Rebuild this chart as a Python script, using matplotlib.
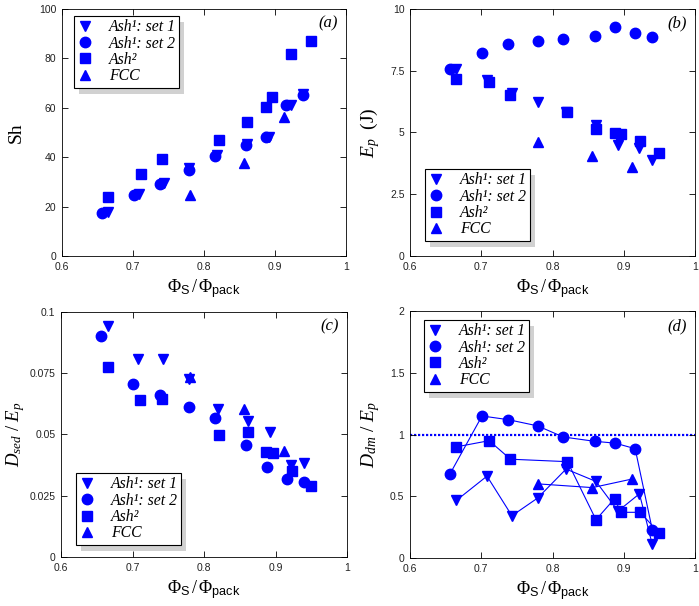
import numpy as np
import matplotlib
matplotlib.use('Agg')
import matplotlib.pyplot as plt
from matplotlib.patches import Rectangle
from matplotlib.ticker import FuncFormatter

plt.rcParams['font.family'] = 'Liberation Sans'
plt.rcParams['mathtext.fontset'] = 'custom'
plt.rcParams['mathtext.rm'] = 'Liberation Serif'
plt.rcParams['mathtext.it'] = 'Liberation Serif:italic'
plt.rcParams['mathtext.bf'] = 'Liberation Serif:bold'
plt.rcParams['mathtext.sf'] = 'Liberation Sans'

# --- datos ---
x_set1 = [0.665, 0.708, 0.743, 0.779, 0.819, 0.861, 0.892, 0.922, 0.940]
x_set2 = [0.656, 0.701, 0.738, 0.779, 0.815, 0.859, 0.888, 0.916, 0.940]
x_ash2 = [0.665, 0.711, 0.741, 0.821, 0.861, 0.887, 0.896, 0.923, 0.950]
x_fcc = [0.780, 0.856, 0.912]

# (a) Sh
sh_set1 = [17.7, 25.1, 29.6, 35.7, 40.9, 45.2, 48.2, 61.2, 65.4]
sh_set2 = [17.6, 24.8, 29.2, 35.0, 40.3, 45.0, 48.2, 61.2, 65.3]
sh_ash2 = [23.7, 33.0, 39.4, 47.0, 54.4, 60.2, 64.3, 81.7, 87.2]
sh_fcc = [24.5, 37.5, 56.4]

# (b) Ep
ep_set1 = [7.58, 7.14, 6.58, 6.24, 5.81, 5.30, 4.51, 4.37, 3.89]
ep_set2 = [7.55, 8.20, 8.58, 8.72, 8.77, 8.92, 9.25, 9.02, 8.85]
ep_ash2 = [7.17, 7.03, 6.53, 5.83, 5.14, 4.96, 4.95, 4.67, 4.17]
ep_fcc = [4.62, 4.06, 3.59]

# (c) Dsed/Ep
ds_set1 = [0.0944, 0.0806, 0.0806, 0.0725, 0.0606, 0.0554, 0.0510, 0.0375, 0.0382]
ds_set2 = [0.0900, 0.0707, 0.0660, 0.0611, 0.0567, 0.0457, 0.0368, 0.0317, 0.0306]
ds_ash2 = [0.0777, 0.0640, 0.0643, 0.0496, 0.0511, 0.0427, 0.0423, 0.0352, 0.0290]
ds_fcc = [0.0736, 0.0602, 0.0434]

# (d) Ddm/Ep
dd_set1 = [0.466, 0.663, 0.342, 0.485, 0.72, 0.62, 0.38, 0.52, 0.11]
dd_set2 = [0.68, 1.15, 1.12, 1.07, 0.98, 0.945, 0.93, 0.885, 0.23]
dd_ash2 = [0.90, 0.95, 0.80, 0.78, 0.31, 0.48, 0.37, 0.37, 0.20]
dd_fcc = [0.60, 0.57, 0.64]

etiquetas = ['Ash¹: set 1', 'Ash¹: set 2', 'Ash²', 'FCC']
marcadores = ['v', 'o', 's', '^']
tamanos = [7.5, 7.5, 6.5, 7.5]
azul = '#0000ff'

paneles = [
    dict(ys=[sh_set1, sh_set2, sh_ash2, sh_fcc], ylim=(0, 100), yt=[0, 20, 40, 60, 80, 100],
         ylabel='Sh', tag='(a)', pos=[0.0887, 0.5776, 0.4063, 0.4076], leg=(0.042, 0.972), lineas=False),
    dict(ys=[ep_set1, ep_set2, ep_ash2, ep_fcc], ylim=(0, 10), yt=[0, 2.5, 5, 7.5, 10],
         ylabel=r'$E_p\ \ \mathrm{(J)}$', tag='(b)', pos=[0.5866, 0.5776, 0.4077, 0.4076], leg=(0.053, 0.352), lineas=False),
    dict(ys=[ds_set1, ds_set2, ds_ash2, ds_fcc], ylim=(0, 0.1), yt=[0, 0.025, 0.05, 0.075, 0.1],
         ylabel=r'$D_{sed}\ /\ E_p$', tag='(c)', pos=[0.0873, 0.0809, 0.4092, 0.4043], leg=(0.052, 0.343), lineas=False),
    dict(ys=[dd_set1, dd_set2, dd_ash2, dd_fcc], ylim=(0, 2), yt=[0, 0.5, 1, 1.5, 2],
         ylabel=r'$D_{dm}\ /\ E_p$', tag='(d)', pos=[0.5866, 0.0792, 0.4077, 0.4076], leg=(0.049, 0.964), lineas=True),
]
xs = [x_set1, x_set2, x_ash2, x_fcc]

fig = plt.figure(figsize=(6.99, 6.06), dpi=100)
ejes = []
leyendas = []
for p in paneles:
    ax = fig.add_axes(p['pos'])
    for x, y, m, ms, lab in zip(xs, p['ys'], marcadores, tamanos, etiquetas):
        if p['lineas']:
            ax.plot(x, y, color=azul, lw=0.8)
        ax.plot(x, y, marker=m, ms=ms, color=azul, linestyle='none', label=lab)
    if p['lineas']:
        ax.axhline(1.0, color=azul, linestyle=(0, (1, 0.8)), lw=1.6, zorder=1)
    ax.set_xlim(0.6, 1.0)
    ax.set_ylim(*p['ylim'])
    ax.set_xticks([0.6, 0.7, 0.8, 0.9, 1.0])
    ax.set_yticks(p['yt'])
    ax.xaxis.set_major_formatter(FuncFormatter(lambda v, _: '%g' % round(v, 4)))
    ax.yaxis.set_major_formatter(FuncFormatter(lambda v, _: '%g' % round(v, 4)))
    ax.tick_params(direction='in', length=4, width=0.6, labelsize=7.5, top=True, right=True,
                   pad=4, labelcolor='#222222')
    for s in ax.spines.values():
        s.set_linewidth(0.6)
    ax.set_xlabel(r'$\Phi_{\mathsf{S}}\,/\,\Phi_{\mathsf{pack}}$', fontsize=13, labelpad=4)
    if p['ylabel'] == 'Sh':
        ax.set_ylabel('Sh', fontsize=14, family='Liberation Serif', labelpad=10)
    elif p['tag'] == '(c)':
        ax.set_ylabel(p['ylabel'], fontsize=13.5, labelpad=2)
    else:
        ax.set_ylabel(p['ylabel'], fontsize=14, labelpad=6)
    ax.text(0.972, 0.972, p['tag'], transform=ax.transAxes, ha='right', va='top',
            fontsize=12, family='Liberation Serif', style='italic')
    leg = ax.legend(loc='upper left', bbox_to_anchor=p['leg'], borderaxespad=0,
                    fancybox=False, framealpha=1, edgecolor='black', handlelength=1.0,
                    handletextpad=1.0, labelspacing=0.02, borderpad=0.22, numpoints=1,
                    prop=dict(family='Liberation Serif', style='italic', size=11.3))
    leg.get_frame().set_linewidth(0.8)
    leg.set_zorder(5)
    ejes.append(ax)
    leyendas.append(leg)

# sombra gris de las leyendas, como en el original
fig.canvas.draw()
for ax, leg in zip(ejes, leyendas):
    bb = leg.get_window_extent()
    inv = ax.transAxes.inverted()
    (x0, y0), (x1, y1) = inv.transform([[bb.x0 + 5, bb.y0 - 6], [bb.x1 + 5, bb.y1 - 6]])
    ax.add_patch(Rectangle((x0, y0), x1 - x0, y1 - y0, transform=ax.transAxes,
                           facecolor='0.82', edgecolor='none', zorder=4, clip_on=False))

fig.savefig('out.png', dpi=100)
